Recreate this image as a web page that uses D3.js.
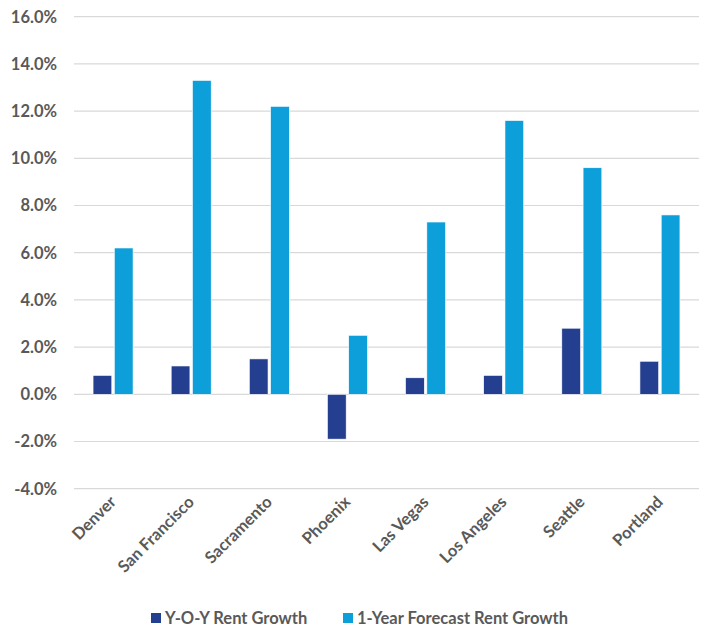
<!DOCTYPE html>
<html><head><meta charset="utf-8">
<script src="https://cdn.jsdelivr.net/npm/d3@7"></script>
<style>body{margin:0;background:#fff}svg{display:block}text{font-family:Lato,"Open Sans",sans-serif;font-weight:bold;fill:#595959}</style>
</head><body><svg id="c" width="704" height="629"></svg>
<script>
const categories = ["Denver","San Francisco","Sacramento","Phoenix","Las Vegas","Los Angeles","Seattle","Portland"];
const yoyGrowth = [0.8,1.2,1.5,-1.9,0.7,0.8,2.8,1.4];
const forecastGrowth = [6.2,13.3,12.2,2.5,7.3,11.6,9.6,7.6];
const seriesNames = ["Y-O-Y Rent Growth","1-Year Forecast Rent Growth"];
const yTicks = [-4,-2,0,2,4,6,8,10,12,14,16];
const colors = ["#243F8F","#0D9FDA"];

const svg = d3.select("#c");
const x = d3.scaleBand().domain(categories).range([74,699]).paddingInner(0).paddingOuter(0);
const y = d3.scaleLinear().domain([-4,16]).range([488.7,16.7]);
const sub = d3.scaleBand().domain([0,1]).range([0,40]).paddingInner(0.12);

svg.append("g").selectAll("line").data(yTicks).join("line")
  .attr("x1",74).attr("x2",699).attr("y1",d=>y(d)).attr("y2",d=>y(d))
  .attr("stroke","#d9d9d9").attr("stroke-width",1.2);
svg.append("g").selectAll("text").data(yTicks).join("text")
  .attr("x",57).attr("y",d=>y(d)).attr("dy","0.36em").attr("text-anchor","end")
  .style("font-size","16.5px").text(d=>d.toFixed(1)+"%");

const series=[yoyGrowth,forecastGrowth];
series.forEach((vals,si)=>{
  svg.append("g").selectAll("rect").data(vals).join("rect")
    .attr("x",(d,i)=>x(categories[i])+x.bandwidth()/2-20+sub(si))
    .attr("width",sub.bandwidth())
    .attr("y",d=>y(Math.max(0,d)))
    .attr("height",d=>Math.abs(y(d)-y(0)))
    .attr("fill",colors[si]).attr("stroke","#fff").attr("stroke-width",0.6);
});

svg.append("g").selectAll("text").data(categories).join("text")
  .attr("transform",d=>`translate(${x(d)+x.bandwidth()/2+4},${503}) rotate(-45)`)
  .attr("text-anchor","end").style("font-size","16.5px").text(d=>d);

const leg = svg.append("g");
const legX=[151,343];
seriesNames.forEach((n,i)=>{
  leg.append("rect").attr("x",legX[i]).attr("y",613).attr("width",10).attr("height",10).attr("fill",colors[i]);
  leg.append("text").attr("x",legX[i]+14).attr("y",618).attr("dy","0.36em").style("font-size","16.5px").text(n);
});
</script></body></html>
